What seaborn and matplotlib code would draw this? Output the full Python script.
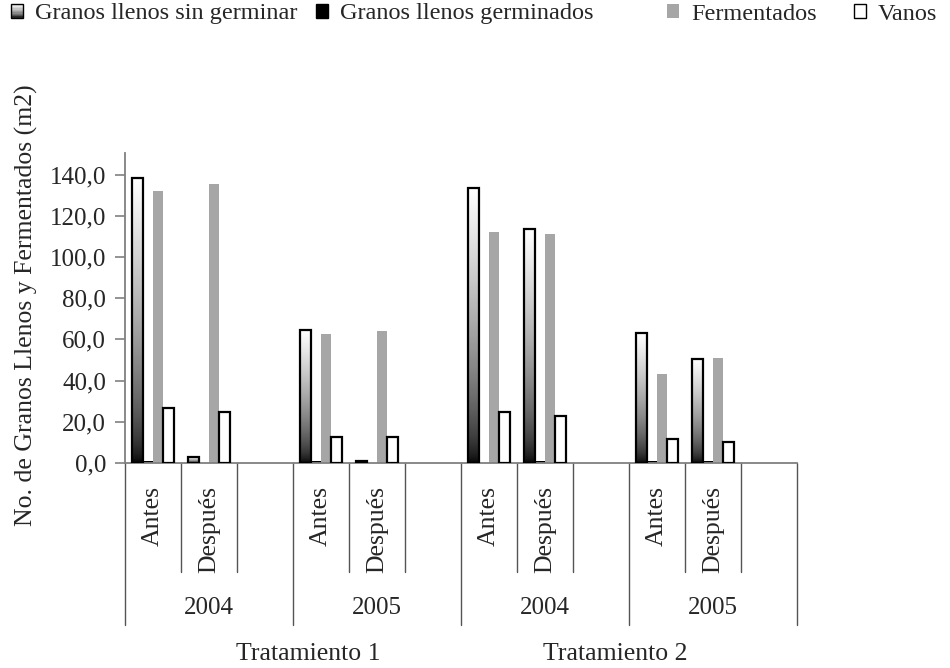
import numpy as np
import pandas as pd
import matplotlib
matplotlib.use("Agg")
import matplotlib.pyplot as plt
import seaborn as sns
from matplotlib.legend_handler import HandlerBase
from matplotlib.patches import Rectangle, Patch
from matplotlib.colors import LinearSegmentedColormap
from matplotlib.transforms import blended_transform_factory

# ---------------- data ----------------
series = ["Granos llenos sin germinar", "Granos llenos germinados", "Fermentados", "Vanos"]
tratamientos = ["Tratamiento 1", "Tratamiento 2"]
anios = ["2004", "2005"]
momentos = ["Antes", "Después"]

# order: T1-2004-Antes, T1-2004-Después, T1-2005-Antes, T1-2005-Después, T2-...
sin_germinar = [138.4, 2.7, 64.8, 0.8, 133.5, 113.5, 63.0, 50.3]
germinados = [1.2, 0.0, 1.2, 0.0, 0.0, 1.2, 1.2, 1.2]
fermentados = [131.9, 135.6, 62.4, 64.1, 112.1, 111.1, 43.2, 50.8]
vanos = [26.6, 24.8, 12.5, 12.5, 24.8, 22.7, 11.5, 10.4]

yticks = [0, 20, 40, 60, 80, 100, 120, 140]
ytick_labels = ["0,0", "20,0", "40,0", "60,0", "80,0", "100,0", "120,0", "140,0"]
ylabel = "No. de Granos Llenos y Fermentados (m2)"

# ---------------- build table ----------------
slots_per_year = len(momentos) + 1          # Antes, Después, blank
n_slots = len(tratamientos) * len(anios) * slots_per_year
values = [sin_germinar, germinados, fermentados, vanos]
rows = []
k = 0
for ti, t in enumerate(tratamientos):
    for yi, a in enumerate(anios):
        for mi, m in enumerate(momentos):
            slot = (ti * len(anios) + yi) * slots_per_year + mi
            for s, vals in zip(series, values):
                rows.append({"slot": str(slot), "serie": s, "valor": vals[k]})
            k += 1
df = pd.DataFrame(rows)
order = [str(i) for i in range(n_slots)]

# ---------------- style ----------------
sns.set_theme(style="white")
plt.rcParams["font.family"] = ["Liberation Serif", "DejaVu Serif"]
FS_NUM = 18
FS_TXT = 18.5
FS_LEG = 17.5
AX_GRAY = "#808080"

fig = plt.figure(figsize=(9.5, 6.68), dpi=100)
ax = fig.add_axes([125 / 950, 1 - 463 / 668, 672 / 950, 310 / 668])

palette = {series[0]: "white", series[1]: "black", series[2]: "#a6a6a6", series[3]: "white"}
sns.barplot(data=df, x="slot", y="valor", hue="serie", order=order, hue_order=series,
            palette=palette, width=0.743, saturation=1, errorbar=None, legend=False, ax=ax)

grad_cmap = LinearSegmentedColormap.from_list("g", ["#000000", "#ffffff"])
grad = (np.linspace(0, 1, 256) ** 0.6).reshape(-1, 1)

# style the containers
c_sg, c_g, c_f, c_v = ax.containers[:4]
for p in c_sg.patches:
    p.set_facecolor("none")
    p.set_edgecolor("black")
    p.set_linewidth(1.6)
    p.set_zorder(3)
    h = p.get_height()
    if not np.isfinite(h) or h <= 0:
        continue
    x0 = p.get_x()
    x1 = x0 + p.get_width()
    im = ax.imshow(grad, cmap=grad_cmap, vmin=0, vmax=1, origin="lower", aspect="auto",
                   extent=(x0, x1, 0, h), zorder=2.5, interpolation="bilinear")
    im.set_clip_path(p)
for p in c_g.patches:
    p.set_facecolor("black")
    p.set_edgecolor("none")
    p.set_zorder(2)
for p in c_f.patches:
    p.set_facecolor("#a6a6a6")
    p.set_edgecolor("none")
    p.set_zorder(2)
for p in c_v.patches:
    p.set_facecolor("white")
    p.set_edgecolor("black")
    p.set_linewidth(1.6)
    p.set_zorder(3)

ax.set_xlim(-0.5, n_slots - 0.5)
ax.set_ylim(0, 150.5)
ax.set_yticks(yticks)
ax.set_yticklabels(ytick_labels, fontsize=FS_NUM)
ax.set_xticks([])
ax.set_xlabel("")
ax.set_ylabel("")
ax.tick_params(axis="y", which="both", left=True, length=7.2, width=1.2, color=AX_GRAY, pad=6.5)
for side in ["top", "right"]:
    ax.spines[side].set_visible(False)
for side in ["left", "bottom"]:
    ax.spines[side].set_color(AX_GRAY)
    ax.spines[side].set_linewidth(1.3)
ax.grid(False)

# y label
ax.text((26 - 125) / 672, (463 - 305) / 310, ylabel, transform=ax.transAxes, rotation=90,
        ha="center", va="center", fontsize=FS_TXT)

# ---------------- multi-level category axis ----------------
tr = blended_transform_factory(ax.transData, ax.transAxes)
short_end = -(572 - 463) / 310
long_end = -(625 - 463) / 310
LINE_C = "#555555"
n_groups = len(tratamientos) * len(anios)
for g in range(n_groups + 1):
    xb = g * slots_per_year - 0.5
    ax.plot([xb, xb], [0, long_end], transform=tr, clip_on=False, color=LINE_C, lw=1.0)
for g in range(n_groups):
    for j in range(1, slots_per_year):
        xb = g * slots_per_year + j - 0.5
        ax.plot([xb, xb], [0, short_end], transform=tr, clip_on=False, color=LINE_C, lw=1.0)

for ti, t in enumerate(tratamientos):
    for yi, a in enumerate(anios):
        g = ti * len(anios) + yi
        base = g * slots_per_year
        for mi, m in enumerate(momentos):
            ax.text(base + mi, -(486 - 463) / 310, m, transform=tr, rotation=90,
                    ha="center", va="top", fontsize=FS_TXT)
        ax.text(base + (slots_per_year - 1) / 2, -(608 - 463) / 310, a, transform=tr,
                ha="center", va="center", fontsize=FS_NUM)

trat_x = [2.78, 8.25]
for t, xx in zip(tratamientos, trat_x):
    ax.text(xx, -(654 - 463) / 310, t, transform=tr, ha="center", va="center", fontsize=FS_TXT)

# ---------------- legend ----------------
class GradientHandler(HandlerBase):
    def create_artists(self, legend, orig_handle, xdescent, ydescent, width, height, fontsize, trans):
        n = 10
        arts = []
        for i in range(n):
            c = grad_cmap(((i + 0.5) / n) ** 0.6)
            arts.append(Rectangle((-xdescent, -ydescent + height * i / n), width, height / n,
                                  facecolor=c, edgecolor="none", transform=trans))
        arts.append(Rectangle((-xdescent, -ydescent), width, height, facecolor="none",
                              edgecolor="black", lw=1.0, transform=trans))
        return arts

handles = [
    Patch(facecolor="white", edgecolor="black"),
    Patch(facecolor="black", edgecolor="black"),
    Patch(facecolor="#a6a6a6", edgecolor="none"),
    Patch(facecolor="white", edgecolor="black", linewidth=1.0),
]
leg_x = [11, 316, 667, 854]
for i, (h, s, lx) in enumerate(zip(handles, series, leg_x)):
    hm = {h: GradientHandler()} if i == 0 else None
    fig.legend(handles=[h], labels=[s], loc="center left", bbox_to_anchor=(lx / 950, 1 - 14 / 668),
               frameon=False, fontsize=FS_LEG, borderpad=0, borderaxespad=0,
               handlelength=0.48, handleheight=0.48, handletextpad=0.5,
               handler_map=hm)

fig.savefig("out.png", dpi=100)
